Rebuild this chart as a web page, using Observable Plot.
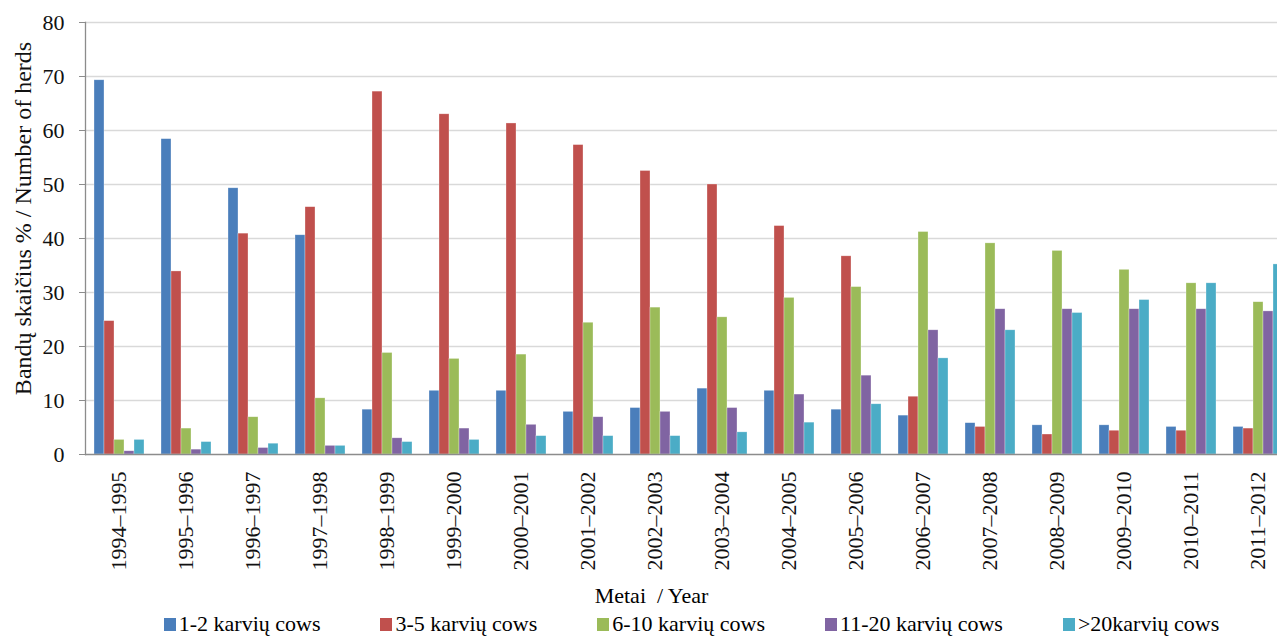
<!DOCTYPE html>
<html>
<head>
<meta charset="utf-8">
<script src="https://cdn.jsdelivr.net/npm/d3@7"></script>
<script src="https://cdn.jsdelivr.net/npm/@observablehq/plot@0.6"></script>
<style>
  html, body { margin: 0; padding: 0; background: #fff; overflow: hidden; }
  #wrap { width: 1277px; font-family: "Liberation Serif", "Times New Roman", serif; color: #000; }
  #chart svg, #chart svg text { font-family: "Liberation Serif", "Times New Roman", serif !important; }
  #xtitle { width: 1277px; box-sizing: border-box; padding-left: 26px; text-align: center; font-size: 22px; line-height: 24px; height: 28px; margin-top: 4px; }
  #legend { width: 1277px; box-sizing: border-box; padding-left: 106px; display: flex; justify-content: center; gap: 60px; font-size: 22px; line-height: 24px; }
  #legend .item { display: flex; align-items: center; white-space: nowrap; }
  #legend .sw { width: 12px; height: 13px; margin-right: 3px; display: inline-block; }
</style>
</head>
<body>
<div id="wrap">
  <div id="chart"></div>
  <div id="xtitle">Metai&nbsp; / Year</div>
  <div id="legend"></div>
</div>
<script>
const years = ["1994–1995","1995–1996","1996–1997","1997–1998","1998–1999","1999–2000","2000–2001","2001–2002","2002–2003","2003–2004","2004–2005","2005–2006","2006–2007","2007–2008","2008–2009","2009–2010","2010–2011","2011–2012"];
const seriesNames = ["1-2 karvių cows","3-5 karvių cows","6-10 karvių cows","11-20 karvių cows",">20karvių cows"];
const seriesColors = ["#4a7ebb","#c0504d","#9bbb59","#8064a2","#4bacc6"];
const cows1to2 = [69.3,58.4,49.3,40.6,8.3,11.8,11.8,7.9,8.6,12.2,11.8,8.3,7.2,5.8,5.4,5.4,5.1,5.1];
const cows3to5 = [24.7,33.9,40.9,45.8,67.2,63.0,61.3,57.3,52.5,50.0,42.3,36.7,10.7,5.1,3.7,4.4,4.4,4.8];
const cows6to10 = [2.7,4.8,6.9,10.4,18.8,17.7,18.5,24.4,27.2,25.4,29.0,31.0,41.2,39.1,37.7,34.2,31.7,28.2];
const cows11to20 = [0.6,0.9,1.2,1.6,3.0,4.8,5.5,6.9,7.9,8.6,11.1,14.6,23.0,26.9,26.9,26.9,26.9,26.5];
const cowsOver20 = [2.7,2.3,2.0,1.6,2.3,2.7,3.4,3.4,3.4,4.1,5.9,9.3,17.8,23.0,26.2,28.6,31.7,35.2];
const yTicks = [0,10,20,30,40,50,60,70,80];
const yLabel = "Bandų skaičius % / Number of herds";

const allSeries = [cows1to2, cows3to5, cows6to10, cows11to20, cowsOver20];
const rows = [];
years.forEach((yr, i) => {
  seriesNames.forEach((s, j) => rows.push({year: yr, series: s, value: allSeries[j][i]}));
});

const W = 1277, H = 580, ML = 84, MT = 22, MB = 126;
const groupStep = 67.06;

const chart = Plot.plot({
  width: W,
  height: H,
  marginLeft: ML,
  marginRight: 0,
  marginTop: MT,
  marginBottom: MB,
  style: {fontFamily: "'Liberation Serif', 'Times New Roman', serif", fontSize: "22px", color: "#111", background: "#fff"},
  fx: {domain: years, range: [ML, ML + groupStep * years.length], paddingInner: 0, paddingOuter: 0},
  x: {domain: seriesNames, paddingInner: 0, paddingOuter: 0.705, axis: null},
  y: {domain: [0, 80], ticks: yTicks},
  color: {domain: seriesNames, range: seriesColors},
  marks: [
    Plot.ruleY(yTicks.filter(d => d > 0), {stroke: "#d9d9d9", strokeWidth: 1.5}),
    Plot.barY(rows, {fx: "year", x: "series", y: "value", fill: "series", stroke: "#ffffff", strokeOpacity: 0.5, strokeWidth: 0.6}),
    Plot.ruleY([0], {stroke: "#8c8c8c", strokeWidth: 1.3}),
    Plot.frame({anchor: "left", facet: "super", stroke: "#8c8c8c", strokeWidth: 1.3}),
    Plot.axisY({ticks: yTicks, tickSize: 6, tickPadding: 15, label: null, stroke: "#8c8c8c", fill: "#111"}),
    Plot.axisFx({anchor: "bottom", tickRotate: -90, tickSize: 0, tickPadding: 17, label: null, fill: "#111"}),
    Plot.text([yLabel], {facet: "super", frameAnchor: "left", textAnchor: "middle", text: d => d, rotate: -90, dx: -62, dy: -20, fontSize: 24, fill: "#111"})
  ]
});
document.getElementById("chart").appendChild(chart);

const legend = document.getElementById("legend");
seriesNames.forEach((s, j) => {
  const item = document.createElement("div");
  item.className = "item";
  const sw = document.createElement("span");
  sw.className = "sw";
  sw.style.background = seriesColors[j];
  const t = document.createElement("span");
  t.textContent = s;
  item.appendChild(sw);
  item.appendChild(t);
  legend.appendChild(item);
});
</script>
</body>
</html>
